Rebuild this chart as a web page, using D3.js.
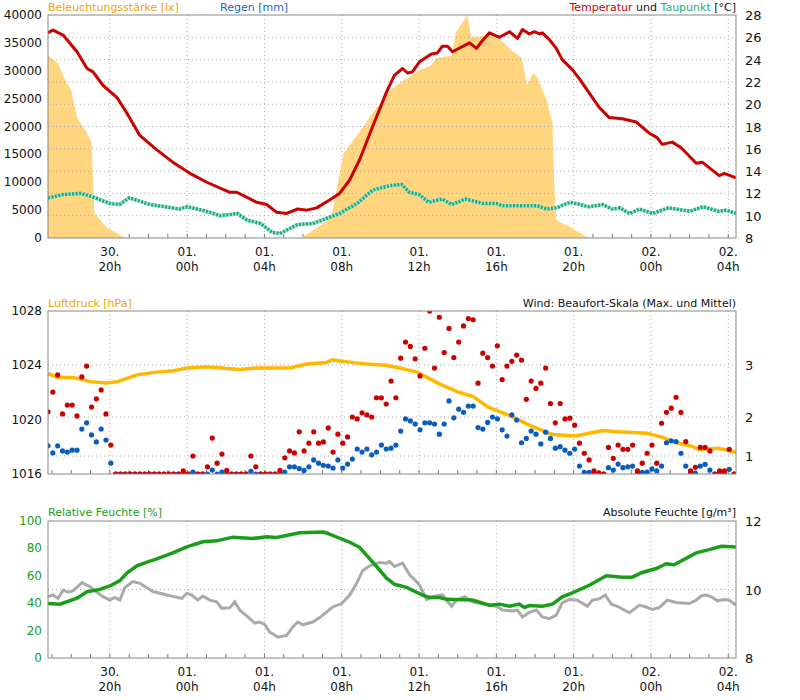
<!DOCTYPE html>
<html><head><meta charset="utf-8">
<script src="https://cdn.jsdelivr.net/npm/d3@7"></script>
<style>body{margin:0;background:#fff}svg{font-family:"DejaVu Sans",Verdana,sans-serif;font-size:11px}</style>
</head><body><svg id="c" width="800" height="700"></svg>
<script>
// ---- data (time in hours from 30. 00:00) ----
const tStart = 16.8, tEnd = 52.4;
const tempData = [[16.8,26.4],[17.06,26.65],[17.58,26.2],[18.3,24.7],[18.82,23.2],[19.13,22.9],[19.64,21.7],[20.37,20.6],[20.88,19.2],[21.55,17.2],[22.43,15.9],[23.26,14.8],[24.14,13.8],[25.02,13.0],[26.21,12.1],[26.57,12.1],[27.6,11.2],[28.12,11.0],[28.63,10.3],[29.15,10.2],[29.72,10.6],[30.19,10.5],[30.7,10.7],[31.37,11.4],[31.89,12.0],[32.41,13.2],[32.92,15.0],[33.6,18.0],[34.32,21.1],[34.73,22.6],[35.15,23.2],[35.4,22.8],[35.66,22.9],[36.02,23.8],[36.64,24.5],[36.95,24.6],[37.21,25.2],[37.47,25.2],[37.73,24.7],[38.61,25.5],[38.97,25.0],[39.23,25.6],[39.64,26.4],[40.16,26.0],[40.68,26.5],[41.09,25.9],[41.35,26.7],[41.71,26.3],[41.97,26.5],[42.23,26.3],[42.38,26.4],[42.74,25.8],[43.1,25.0],[43.41,24.0],[43.93,23.1],[44.29,22.3],[44.81,21.0],[45.33,19.7],[45.84,18.8],[46.52,18.7],[47.24,18.4],[47.91,17.4],[48.32,17.0],[48.58,16.4],[49.1,16.6],[49.56,16.1],[50.34,14.7],[50.65,14.8],[51.53,13.6],[51.79,13.8],[52.4,13.4]];
const dewData = [[16.8,11.6],[17.6,11.9],[18.5,12.0],[19.1,11.7],[20.0,11.1],[20.5,11.0],[21.0,11.6],[22.1,11.0],[23.6,10.6],[24.0,10.8],[25.0,10.4],[25.7,10.0],[26.6,10.2],[27.1,9.6],[27.8,9.3],[28.4,8.5],[28.8,8.4],[29.7,9.2],[30.5,9.3],[31.9,10.2],[32.8,11.1],[33.6,12.3],[34.5,12.7],[35.1,12.8],[35.5,12.1],[36.0,11.9],[36.5,11.2],[37.2,11.5],[37.7,11.0],[38.4,11.5],[39.3,11.1],[40.0,11.1],[40.3,10.9],[41.3,10.9],[42.1,10.9],[42.6,10.6],[43.1,10.7],[43.8,11.2],[44.1,11.1],[44.8,10.8],[45.5,11.0],[46.0,10.6],[46.4,10.7],[46.9,10.2],[47.4,10.6],[48.1,10.2],[48.9,10.7],[50.0,10.4],[50.7,10.8],[51.5,10.4],[51.9,10.5],[52.4,10.2]];
const luxData = [[16.8,32800],[17.3,31400],[17.7,28300],[18.0,26500],[18.3,21700],[18.6,19900],[18.8,19000],[19.05,17200],[19.2,4500],[19.8,2000],[20.7,200],[21.0,0],[29.9,0],[31.2,2900],[31.5,4500],[31.9,11700],[32.1,15200],[33.1,19900],[33.6,22400],[34.5,26500],[35.0,27800],[35.5,28900],[36.0,30100],[36.6,30900],[36.9,32300],[37.7,32700],[37.9,36800],[38.5,40000],[38.7,35900],[39.6,36400],[40.2,35500],[40.7,33900],[41.3,32300],[41.6,27400],[41.9,29600],[42.1,28900],[42.6,24800],[42.9,20600],[43.0,9100],[43.1,3200],[43.8,2000],[44.7,200],[45.0,0],[52.4,0]];
const pressData = [[16.8,1023.4],[17.3,1023.1],[18.1,1023.1],[19.0,1022.8],[19.8,1022.7],[20.4,1022.8],[21.4,1023.3],[22.4,1023.5],[23.3,1023.6],[24.0,1023.8],[25.0,1023.9],[26.7,1023.7],[27.6,1023.8],[29.3,1023.8],[30.2,1024.1],[31.2,1024.2],[31.5,1024.4],[32.6,1024.2],[33.3,1024.1],[34.3,1024.0],[35.0,1023.8],[35.9,1023.5],[37.1,1022.6],[38.1,1022.0],[38.8,1021.7],[39.6,1020.9],[40.7,1020.3],[41.7,1019.6],[42.9,1018.9],[44.1,1018.8],[45.5,1019.2],[46.5,1019.1],[47.8,1019.0],[48.6,1018.7],[49.3,1018.3],[50.0,1018.1],[50.5,1017.8],[51.5,1017.9],[52.4,1017.6]];
const windStep = 0.25;
const windMax = [2.1,2.48,2.81,2.06,2.23,2.23,2.02,2.77,2.98,2.19,2.35,2.52,2.06,1.28,
0,0,0,0,0,0,0,0,0,0,0,0,0,0,
0.17,0,1.0,0,0,0.4,1.46,0.6,1.05,0.2,0,0,0,0,1.0,0.4,0,0,0,0,0.2,0.9,1.13,1.08,1.62,1.13,1.33,1.62,1.33,1.36,1.72,1.1,1.56,1.33,1.49,2.0,1.95,2.08,2.04,2.0,2.37,2.37,2.25,2.69,2.37,
3.11,3.37,3.30,3.10,2.79,3.27,3.87,2.94,3.77,3.2,3.59,3.12,3.37,3.63,3.75,3.73,2.65,3.19,3.12,2.98,3.31,2.72,2.98,3.06,3.16,3.08,2.34,2.69,2.55,2.65,2.94,2.26,1.85,2.26,1.95,1.97,1.79,1.33,1.07,0.78,0.17,0.07,0,1.22,0.87,1.28,1.17,1.17,1.28,0.17,0.6,1.07,1.28,0.6,1.84,2.09,2.17,2.38,2.09,1.37,0.17,0.37,1.22,1.22,1.13,0,0.17,0.17,1.17,0];
const windMean = [1.26,1.08,1.26,1.13,1.1,1.15,1.15,1.69,1.85,1.54,1.36,1.69,1.41,0.6,
0,0,0,0,0,0,0,0,0,0,0,0,0,0,
0.05,0,0.1,0,0,0,0.22,0,0.1,0,0,0,0,0,0.15,0,0,0,0,0,0,0.1,0.4,0.4,0.3,0.2,0.4,0.78,0.6,0.48,0.44,0.33,0.78,0.33,0.55,0.83,1.18,1.1,1.18,1.03,1.1,1.28,1.18,1.2,1.28,
1.64,1.95,1.9,1.82,1.67,1.85,1.85,1.82,1.56,1.82,2.31,1.98,2.15,2.09,2.21,2.21,1.73,1.69,1.86,2.0,1.95,1.67,1.51,2.04,1.92,1.34,1.45,1.64,1.56,1.31,1.61,1.45,1.2,1.24,1.15,1.07,1.18,0.44,0.09,0.09,0,0,0,0.35,0.22,0.55,0.35,0.4,0.44,0.05,0.09,0.1,0.28,0.17,0.44,1.34,1.39,1.37,1.07,0.44,0.05,0.05,0.44,0.54,0.22,0,0.05,0.05,0.26,0];
const rhData = [[16.8,39.8],[17.42,39.3],[18.3,43.7],[18.82,48.4],[19.49,50.1],[20.0,52.6],[20.52,56.5],[20.88,62],[21.4,67.3],[21.92,70],[22.43,72.3],[23.26,76.7],[23.98,81.1],[24.81,84.8],[25.53,85.5],[26.36,88.2],[27.39,87.2],[28.12,88.5],[28.63,88],[29.82,91.4],[31.06,91.9],[31.27,90.9],[32.41,84.5],[32.92,80.8],[33.8,66.8],[34.32,58.3],[34.73,53.8],[35.35,51.6],[36.18,45.9],[36.54,44.2],[37.06,44.2],[37.42,42.8],[38.76,42.3],[39.64,38.6],[40.16,39.3],[40.68,37.8],[41.19,39.3],[41.45,36.9],[41.71,38.3],[42.38,37.8],[42.9,39.3],[43.41,44.7],[43.93,47.6],[44.81,53.1],[45.69,60],[46.52,59],[47.03,59],[47.55,62.4],[48.27,65.3],[48.79,68.8],[49.2,68.1],[50.34,76.7],[51.01,79.1],[51.63,81.6],[52.4,81.1]];
const ahData = [[16.8,9.79],[17.06,9.84],[17.32,9.74],[17.58,9.98],[17.83,9.92],[18.09,9.96],[18.56,10.2],[18.97,10.08],[19.64,9.79],[20.0,9.69],[20.26,9.77],[20.52,9.69],[20.78,10.06],[21.19,10.23],[21.55,10.18],[22.23,9.94],[22.95,9.84],[23.73,9.74],[23.98,9.89],[24.24,9.84],[24.55,9.69],[24.81,9.81],[25.17,9.69],[25.53,9.64],[25.79,9.45],[26.21,9.47],[26.46,9.64],[26.72,9.4],[27.14,9.2],[27.5,9.02],[27.76,9.05],[28.01,8.98],[28.27,8.76],[28.69,8.61],[29.15,8.66],[29.46,8.9],[29.72,9.05],[29.98,8.97],[30.5,9.05],[30.86,9.18],[31.53,9.49],[32.0,9.59],[32.41,9.84],[32.77,10.18],[33.08,10.55],[33.44,10.69],[33.96,10.79],[34.32,10.77],[34.47,10.82],[34.73,10.67],[35.15,10.77],[35.51,10.43],[35.87,10.23],[36.02,10.13],[36.39,9.71],[36.7,9.79],[37.21,9.84],[37.68,9.51],[37.94,9.69],[38.35,9.79],[38.76,9.64],[39.64,9.54],[40.0,9.51],[40.31,9.40],[40.83,9.37],[41.09,9.4],[41.35,9.2],[41.71,9.33],[42.07,9.4],[42.38,9.2],[42.74,9.15],[43.1,9.25],[43.41,9.61],[43.78,9.71],[44.19,9.69],[44.71,9.51],[44.97,9.69],[45.33,9.73],[45.64,9.84],[45.95,9.57],[46.26,9.51],[46.88,9.32],[47.4,9.54],[47.65,9.51],[48.07,9.42],[48.43,9.47],[48.84,9.69],[49.31,9.62],[49.98,9.59],[50.34,9.69],[50.6,9.81],[50.86,9.84],[51.17,9.77],[51.43,9.67],[51.79,9.71],[52.05,9.69],[52.4,9.54]];
const luxTicks = [0,5000,10000,15000,20000,25000,30000,35000,40000];
const tempTicks = [8,10,12,14,16,18,20,22,24,26,28];
const pressTicks = [1016,1020,1024,1028];
const windTicks = [1,2,3];
const rhTicks = [0,20,40,60,80,100];
const ahTicks = [8,10,12];

// ---- layout ----
const svg = d3.select("#c");
const L = 48, R = 736;
const base = new Date(2023,5,30,0,0,0).getTime();
const toDate = h => new Date(base + h*3600000);
const x = d3.scaleTime().domain([toDate(tStart), toDate(tEnd)]).range([L, R]);
const P = [{top:15,bot:238,lab:true},{top:311,bot:474,lab:false},{top:521,bot:658,lab:true}];
const grid = "#aaa";

function frame(p, id){
  const g = svg.append("g");
  svg.append("clipPath").attr("id","clip"+id).append("rect").attr("x",L).attr("y",p.top).attr("width",R-L).attr("height",p.bot-p.top);
  const maj = x.ticks(d3.timeHour.every(4));
  g.selectAll(".vg").data(maj).join("line").attr("x1",d=>x(d)).attr("x2",d=>x(d)).attr("y1",p.top).attr("y2",p.bot)
    .attr("stroke",grid).attr("stroke-dasharray","1,3");
  g.selectAll(".mt").data(x.ticks(d3.timeHour.every(1))).join("line").attr("x1",d=>x(d)).attr("x2",d=>x(d)).attr("y1",p.bot-4).attr("y2",p.bot).attr("stroke","#777");
  if (p.lab) {
    const fd = d3.timeFormat("%d."), fh = d3.timeFormat("%Hh");
    const lab = g.selectAll(".xl").data(maj).join("text").attr("x",d=>x(d)).attr("text-anchor","middle").attr("fill","#111").style("font-size","12px");
    lab.append("tspan").attr("x",d=>x(d)).attr("y",p.bot+18).text(fd);
    lab.append("tspan").attr("x",d=>x(d)).attr("y",p.bot+33).text(fh);
  }
  return g;
}
function border(p){
  svg.append("rect").attr("x",L).attr("y",p.top).attr("width",R-L).attr("height",p.bot-p.top).attr("fill","none").attr("stroke","#888");
}
function hgrid(g, scale, ticks){
  g.selectAll(null).data(ticks).join("line").attr("x1",L).attr("x2",R).attr("y1",d=>scale(d)).attr("y2",d=>scale(d))
    .attr("stroke",grid).attr("stroke-dasharray","1,3");
}
function leftLabels(scale, ticks, color){
  svg.append("g").selectAll("text").data(ticks).join("text").attr("x",L-6).attr("y",d=>scale(d)+4).attr("text-anchor","end").attr("fill",color).style("font-size","12px").text(d=>d);
}
function rightLabels(scale, ticks){
  svg.append("g").selectAll("text").data(ticks).join("text").attr("x",R+9).attr("y",d=>scale(d)+5).attr("fill","#111").style("font-size","13px").text(d=>d);
}
const line = (ys) => d3.line().x(d=>x(toDate(d[0]))).y(d=>ys(d[1]));

// ---- panel 1 ----
{
  const p = P[0];
  const yL = d3.scaleLinear().domain([0,40000]).range([p.bot,p.top]);
  const yT = d3.scaleLinear().domain([8,28]).range([p.bot,p.top]);
  const g = frame(p,0);
  const c = svg.append("g").attr("clip-path","url(#clip0)");
  c.append("path").datum(luxData).attr("fill","#ffd580")
    .attr("d", d3.area().x(d=>x(toDate(d[0]))).y0(p.bot).y1(d=>yL(d[1])));
  hgrid(c, yT, tempTicks.slice(1,-1));
  c.append("path").datum(dewData).attr("fill","none").attr("stroke","#a8e6cf").attr("stroke-width",3.5).attr("d",line(yT));
  c.append("path").datum(dewData).attr("fill","none").attr("stroke","#1aaa80").attr("stroke-width",3.5).attr("stroke-dasharray","2,1.5").attr("d",line(yT));
  c.append("path").datum(tempData).attr("fill","none").attr("stroke","#cc0000").attr("stroke-width",3).attr("stroke-linejoin","round").attr("d",line(yT));
  border(p);
  leftLabels(yL, luxTicks, "#111");
  rightLabels(yT, tempTicks);
  svg.append("text").attr("x",L).attr("y",11).attr("fill","#f0a500").text("Beleuchtungsstärke [lx]");
  svg.append("text").attr("x",220).attr("y",11).attr("fill","#1f63c6").text("Regen [mm]");
  const t = svg.append("text").attr("x",R).attr("y",11).attr("text-anchor","end");
  t.append("tspan").attr("fill","#cc0000").text("Temperatur");
  t.append("tspan").attr("fill","#111").text(" und ");
  t.append("tspan").attr("fill","#1aaa80").text("Taupunkt");
  t.append("tspan").attr("fill","#111").text(" [°C]");
}
// ---- panel 2 ----
{
  const p = P[1];
  const yP = d3.scaleLinear().domain([1016,1028]).range([p.bot,p.top]);
  const yW = d3.scaleLinear().domain([0,1,2,3,4]).range([474,456,417,365,303]);
  const g = frame(p,1);
  hgrid(g, yW, windTicks);
  const c = svg.append("g").attr("clip-path","url(#clip1)");
  c.append("path").datum(pressData).attr("fill","none").attr("stroke","#ffb700").attr("stroke-width",3.5).attr("d",line(yP));
  const wt = i => x(toDate(tStart + i*windStep));
  c.selectAll(".wm").data(windMean).join("circle").attr("cx",(d,i)=>wt(i)).attr("cy",d=>yW(d)).attr("r",2.6).attr("fill","#0a5cbf");
  c.selectAll(".wx").data(windMax).join("circle").attr("cx",(d,i)=>wt(i)).attr("cy",d=>yW(d)).attr("r",2.6).attr("fill","#cc0000");
  border(p);
  leftLabels(yP, pressTicks, "#111");
  rightLabels(yW, windTicks);
  svg.append("text").attr("x",L).attr("y",p.top-4).attr("fill","#f0a500").text("Luftdruck [hPa]");
  svg.append("text").attr("x",R).attr("y",p.top-4).attr("text-anchor","end").attr("fill","#111").text("Wind: Beaufort-Skala (Max. und Mittel)");
}
// ---- panel 3 ----
{
  const p = P[2];
  const yR = d3.scaleLinear().domain([0,100]).range([p.bot,p.top]);
  const yA = d3.scaleLinear().domain([8,12]).range([p.bot,p.top]);
  const g = frame(p,2);
  hgrid(g, yA, [10]);
  const c = svg.append("g").attr("clip-path","url(#clip2)");
  c.append("path").datum(ahData).attr("fill","none").attr("stroke","#aaaaaa").attr("stroke-width",3).attr("d",line(yA));
  c.append("path").datum(rhData).attr("fill","none").attr("stroke","#1a9e1a").attr("stroke-width",3.5).attr("d",line(yR));
  border(p);
  leftLabels(yR, rhTicks, "#1a9e1a");
  rightLabels(yA, ahTicks);
  svg.append("text").attr("x",L).attr("y",p.top-5).attr("fill","#1a9e1a").text("Relative Feuchte [%]");
  svg.append("text").attr("x",R).attr("y",p.top-5).attr("text-anchor","end").attr("fill","#111").text("Absolute Feuchte [g/m³]");
}
</script></body></html>
